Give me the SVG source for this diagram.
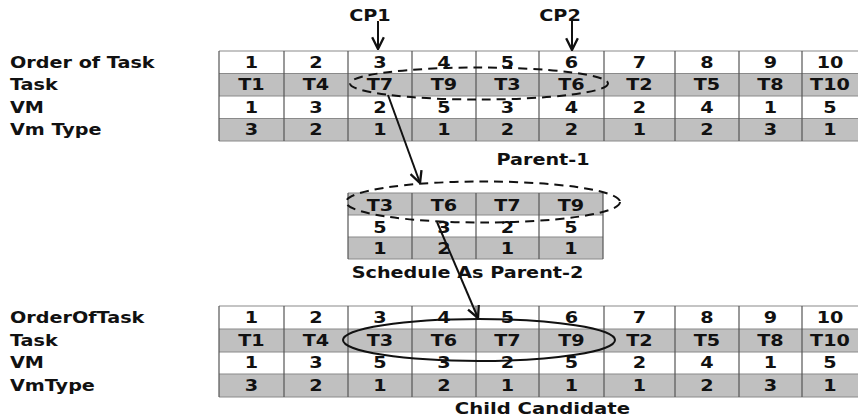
<svg xmlns="http://www.w3.org/2000/svg" width="858" height="418" viewBox="0 0 858 418">
<style>
  text { font-family: "DejaVu Sans", Verdana, sans-serif; font-weight: bold; font-size: 16px; fill: #111; }
  .c { text-anchor: middle; }
  .gray { fill: #c0c0c0; }
  .hl { stroke: #8a8a8a; stroke-width: 1.2; }
  .vl { stroke: #555; stroke-width: 1.2; }
  .conn { stroke: #111; stroke-width: 2; fill: none; }
  .dash { stroke: #111; stroke-width: 2; fill: none; stroke-dasharray: 9 6; }
</style>
<defs>
  <marker id="ah" markerUnits="userSpaceOnUse" markerWidth="14" markerHeight="14" viewBox="0 0 12 12" refX="11" refY="6" orient="auto">
    <path d="M1,1 L11,6 L1,11" fill="none" stroke="#111" stroke-width="2"/>
  </marker>
</defs>
<rect width="858" height="418" fill="#fff"/>

<!-- Parent-1 table -->
<g id="parent1">
  <rect class="gray" x="219" y="73.5" width="639" height="22.5"/>
  <rect class="gray" x="219" y="118.5" width="639" height="22.5"/>
  <g class="hl">
    <line x1="219" y1="51" x2="858" y2="51"/>
    <line x1="219" y1="73.5" x2="858" y2="73.5"/>
    <line x1="219" y1="96" x2="858" y2="96"/>
    <line x1="219" y1="118.5" x2="858" y2="118.5"/>
    <line x1="219" y1="141" x2="858" y2="141"/>
  </g>
  <g class="vl">
    <line x1="219" y1="51" x2="219" y2="141"/>
    <line x1="284" y1="51" x2="284" y2="141"/>
    <line x1="348" y1="51" x2="348" y2="141"/>
    <line x1="412" y1="51" x2="412" y2="141"/>
    <line x1="476" y1="51" x2="476" y2="141"/>
    <line x1="539" y1="51" x2="539" y2="141"/>
    <line x1="604" y1="51" x2="604" y2="141"/>
    <line x1="675" y1="51" x2="675" y2="141"/>
    <line x1="739" y1="51" x2="739" y2="141"/>
    <line x1="802" y1="51" x2="802" y2="141"/>
  </g>
  <g transform="scale(1.2 1)">
    <text x="8.33" y="68">Order of Task</text>
    <text x="8.33" y="90.5">Task</text>
    <text x="8.33" y="113">VM</text>
    <text x="8.33" y="135">Vm Type</text>
    <g class="c">
      <text x="209.58" y="68">1</text><text x="263.33" y="68">2</text><text x="316.67" y="68">3</text><text x="370" y="68">4</text><text x="422.92" y="68">5</text><text x="476.25" y="68">6</text><text x="532.92" y="68">7</text><text x="589.17" y="68">8</text><text x="642.08" y="68">9</text><text x="691.67" y="68">10</text>
      <text x="209.58" y="90.5">T1</text><text x="263.33" y="90.5">T4</text><text x="316.67" y="90.5">T7</text><text x="370" y="90.5">T9</text><text x="422.92" y="90.5">T3</text><text x="476.25" y="90.5">T6</text><text x="532.92" y="90.5">T2</text><text x="589.17" y="90.5">T5</text><text x="642.08" y="90.5">T8</text><text x="691.67" y="90.5">T10</text>
      <text x="209.58" y="113">1</text><text x="263.33" y="113">3</text><text x="316.67" y="113">2</text><text x="370" y="113">5</text><text x="422.92" y="113">3</text><text x="476.25" y="113">4</text><text x="532.92" y="113">2</text><text x="589.17" y="113">4</text><text x="642.08" y="113">1</text><text x="691.67" y="113">5</text>
      <text x="209.58" y="135.5">3</text><text x="263.33" y="135.5">2</text><text x="316.67" y="135.5">1</text><text x="370" y="135.5">1</text><text x="422.92" y="135.5">2</text><text x="476.25" y="135.5">2</text><text x="532.92" y="135.5">1</text><text x="589.17" y="135.5">2</text><text x="642.08" y="135.5">3</text><text x="691.67" y="135.5">1</text>
      <text x="308.3" y="21">CP1</text>
      <text x="466.7" y="21">CP2</text>
      <text x="452.5" y="165">Parent-1</text>
    </g>
  </g>
</g>

<!-- Parent-2 table -->
<g id="parent2">
  <rect class="gray" x="348" y="193" width="255" height="22"/>
  <rect class="gray" x="348" y="237" width="255" height="22"/>
  <g class="hl">
    <line x1="348" y1="193" x2="603" y2="193"/>
    <line x1="348" y1="215" x2="603" y2="215"/>
    <line x1="348" y1="237" x2="603" y2="237"/>
    <line x1="348" y1="259" x2="603" y2="259"/>
  </g>
  <g class="vl">
    <line x1="348" y1="193" x2="348" y2="259"/>
    <line x1="412" y1="193" x2="412" y2="259"/>
    <line x1="476" y1="193" x2="476" y2="259"/>
    <line x1="539" y1="193" x2="539" y2="259"/>
    <line x1="603" y1="193" x2="603" y2="259"/>
  </g>
  <g transform="scale(1.2 1)" class="c">
    <text x="316.67" y="211.5">T3</text><text x="370" y="211.5">T6</text><text x="422.92" y="211.5">T7</text><text x="475.83" y="211.5">T9</text>
    <text x="316.67" y="233">5</text><text x="370" y="233">3</text><text x="422.92" y="233">2</text><text x="475.83" y="233">5</text>
    <text x="316.67" y="254.5">1</text><text x="370" y="254.5">2</text><text x="422.92" y="254.5">1</text><text x="475.83" y="254.5">1</text>
    <text x="389.6" y="278">Schedule As Parent-2</text>
  </g>
</g>

<!-- Child table -->
<g id="child">
  <rect class="gray" x="219" y="329" width="639" height="23"/>
  <rect class="gray" x="219" y="374" width="639" height="23"/>
  <g class="hl">
    <line x1="219" y1="306" x2="858" y2="306"/>
    <line x1="219" y1="329" x2="858" y2="329"/>
    <line x1="219" y1="352" x2="858" y2="352"/>
    <line x1="219" y1="374" x2="858" y2="374"/>
    <line x1="219" y1="397" x2="858" y2="397"/>
  </g>
  <g class="vl">
    <line x1="219" y1="306" x2="219" y2="397"/>
    <line x1="284" y1="306" x2="284" y2="397"/>
    <line x1="348" y1="306" x2="348" y2="397"/>
    <line x1="412" y1="306" x2="412" y2="397"/>
    <line x1="476" y1="306" x2="476" y2="397"/>
    <line x1="539" y1="306" x2="539" y2="397"/>
    <line x1="604" y1="306" x2="604" y2="397"/>
    <line x1="675" y1="306" x2="675" y2="397"/>
    <line x1="739" y1="306" x2="739" y2="397"/>
    <line x1="802" y1="306" x2="802" y2="397"/>
  </g>
  <g transform="scale(1.2 1)">
    <text x="8.33" y="323">OrderOfTask</text>
    <text x="8.33" y="346">Task</text>
    <text x="8.33" y="368">VM</text>
    <text x="8.33" y="391">VmType</text>
    <g class="c">
      <text x="209.58" y="323">1</text><text x="263.33" y="323">2</text><text x="316.67" y="323">3</text><text x="370" y="323">4</text><text x="422.92" y="323">5</text><text x="476.25" y="323">6</text><text x="532.92" y="323">7</text><text x="589.17" y="323">8</text><text x="642.08" y="323">9</text><text x="691.67" y="323">10</text>
      <text x="209.58" y="346">T1</text><text x="263.33" y="346">T4</text><text x="316.67" y="346">T3</text><text x="370" y="346">T6</text><text x="422.92" y="346">T7</text><text x="476.25" y="346">T9</text><text x="532.92" y="346">T2</text><text x="589.17" y="346">T5</text><text x="642.08" y="346">T8</text><text x="691.67" y="346">T10</text>
      <text x="209.58" y="368.5">1</text><text x="263.33" y="368.5">3</text><text x="316.67" y="368.5">5</text><text x="370" y="368.5">3</text><text x="422.92" y="368.5">2</text><text x="476.25" y="368.5">5</text><text x="532.92" y="368.5">2</text><text x="589.17" y="368.5">4</text><text x="642.08" y="368.5">1</text><text x="691.67" y="368.5">5</text>
      <text x="209.58" y="391">3</text><text x="263.33" y="391">2</text><text x="316.67" y="391">1</text><text x="370" y="391">2</text><text x="422.92" y="391">1</text><text x="476.25" y="391">1</text><text x="532.92" y="391">1</text><text x="589.17" y="391">2</text><text x="642.08" y="391">3</text><text x="691.67" y="391">1</text>
      <text x="452" y="414" textLength="146" lengthAdjust="spacingAndGlyphs">Child Candidate</text>
    </g>
  </g>
</g>

<!-- Connectors -->
<g id="connectors">
  <ellipse class="dash" cx="479" cy="83.5" rx="129" ry="16"/>
  <ellipse class="dash" cx="483" cy="202" rx="137" ry="20.5"/>
  <ellipse class="conn" cx="479" cy="340" rx="136" ry="21"/>
  <line class="conn" x1="378" y1="21" x2="378" y2="49" marker-end="url(#ah)"/>
  <line class="conn" x1="572" y1="21" x2="572" y2="50" marker-end="url(#ah)"/>
  <line class="conn" x1="388" y1="95" x2="420" y2="183" marker-end="url(#ah)"/>
  <line class="conn" x1="437" y1="222" x2="478" y2="318" marker-end="url(#ah)"/>
</g>
</svg>
